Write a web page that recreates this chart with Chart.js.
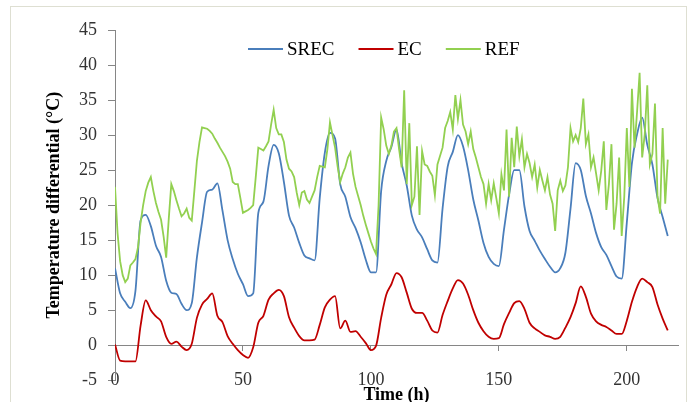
<!DOCTYPE html>
<html>
<head>
<meta charset="utf-8">
<script src="https://cdn.jsdelivr.net/npm/chart.js@4/dist/chart.umd.min.js"></script>
<style>
  html, body { margin: 0; padding: 0; background: #fff; }
  canvas { display: block; }
</style>
</head>
<body>
<canvas id="tempChart" width="696" height="402"></canvas>
<script>
// 시간 (h) - SREC / EC 는 2시간 간격
const hours2 = [
  0, 2, 4, 6, 8, 10, 12, 14, 16, 18,
  20, 22, 24, 26, 28, 30, 32, 34, 36, 38,
  40, 42, 44, 46, 48, 50, 52, 54, 56, 58,
  60, 62, 64, 66, 68, 70, 72, 74, 76, 78,
  80, 82, 84, 86, 88, 90, 92, 94, 96, 98,
  100, 102, 104, 106, 108, 110, 112, 114, 116, 118,
  120, 122, 124, 126, 128, 130, 132, 134, 136, 138,
  140, 142, 144, 146, 148, 150, 152, 154, 156, 158,
  160, 162, 164, 166, 168, 170, 172, 174, 176, 178,
  180, 182, 184, 186, 188, 190, 192, 194, 196, 198,
  200, 202, 204, 206, 208, 210, 212, 214, 216
];

// REF 는 1시간 간격
const hours1 = [
  0, 1, 2, 3, 4, 5, 6, 7, 8, 9,
  10, 11, 12, 13, 14, 15, 16, 17, 18, 19,
  20, 21, 22, 23, 24, 25, 26, 27, 28, 29,
  30, 31, 32, 33, 34, 35, 36, 37, 38, 39,
  40, 41, 42, 43, 44, 45, 46, 47, 48, 49,
  50, 51, 52, 53, 54, 55, 56, 57, 58, 59,
  60, 61, 62, 63, 64, 65, 66, 67, 68, 69,
  70, 71, 72, 73, 74, 75, 76, 77, 78, 79,
  80, 81, 82, 83, 84, 85, 86, 87, 88, 89,
  90, 91, 92, 93, 94, 95, 96, 97, 98, 99,
  100, 101, 102, 103, 104, 105, 106, 107, 108, 109,
  110, 111, 112, 113, 114, 115, 116, 117, 118, 119,
  120, 121, 122, 123, 124, 125, 126, 127, 128, 129,
  130, 131, 132, 133, 134, 135, 136, 137, 138, 139,
  140, 141, 142, 143, 144, 145, 146, 147, 148, 149,
  150, 151, 152, 153, 154, 155, 156, 157, 158, 159,
  160, 161, 162, 163, 164, 165, 166, 167, 168, 169,
  170, 171, 172, 173, 174, 175, 176, 177, 178, 179,
  180, 181, 182, 183, 184, 185, 186, 187, 188, 189,
  190, 191, 192, 193, 194, 195, 196, 197, 198, 199,
  200, 201, 202, 203, 204, 205, 206, 207, 208, 209,
  210, 211, 212, 213, 214, 215, 216
];

const srecValues = [
  11.0, 7.4, 6.2, 5.3, 7.8, 17.8, 18.6, 17.0, 14.2, 12.6,
  9.2, 7.5, 7.3, 5.9, 5.0, 6.0, 12.5, 17.5, 21.9, 22.2,
  23.1, 19.2, 15.0, 12.3, 10.2, 8.7, 7.0, 7.4, 18.9, 20.5,
  25.6, 28.6, 27.4, 23.3, 18.5, 16.8, 14.6, 12.8, 12.4, 12.1,
  21.0, 27.5, 30.3, 29.5, 23.0, 21.2, 18.3, 16.7, 14.7, 12.2,
  10.4, 10.4, 22.0, 26.3, 28.3, 30.8, 26.0, 22.8, 18.5, 16.5,
  15.4, 13.7, 12.1, 11.8, 19.5, 25.5, 27.6, 30.0, 28.4, 25.0,
  20.8, 17.8, 14.6, 12.6, 11.6, 11.3, 16.5, 21.5, 25.0, 25.0,
  19.8, 16.3, 14.9, 13.5, 12.3, 11.2, 10.4, 11.0, 13.2, 19.5,
  26.0, 25.0, 21.3, 18.8, 16.0, 14.0, 12.9, 11.3, 9.8, 9.5,
  17.5, 26.0, 30.1, 32.5, 28.6, 25.8, 21.0, 18.3, 15.6
];

const ecValues = [
  0.1, -2.2, -2.3, -2.3, -2.3, 2.8, 6.4, 5.0, 4.1, 3.4,
  1.2, 0.2, 0.5, -0.2, -0.7, 0.2, 3.9, 5.8, 6.6, 7.4,
  4.2, 3.3, 1.3, 0.2, -0.7, -1.4, -1.8, -0.3, 3.2, 4.2,
  6.5, 7.4, 7.9, 7.0, 4.0, 2.5, 1.3, 0.7, 0.7, 0.8,
  2.9, 5.4, 6.5, 7.0, 2.4, 3.5, 1.9, 2.0, 1.2, 0.3,
  -0.7, -0.1, 3.9, 7.2, 8.7, 10.3, 9.7, 7.5, 5.2, 4.6,
  4.6, 3.5, 2.1, 1.8, 4.3, 6.3, 8.1, 9.3, 8.8, 7.2,
  5.0, 3.2, 2.0, 1.2, 0.9, 1.0, 3.0, 4.6, 6.0, 6.3,
  5.2, 3.2, 2.4, 1.9, 1.4, 1.2, 0.9, 1.2, 2.5, 4.0,
  6.0, 8.4, 6.9, 4.5, 3.4, 2.9, 2.6, 2.1, 1.6, 1.6,
  3.5, 6.2, 8.3, 9.5, 9.0, 8.3, 5.8, 3.8, 2.1
];

const refValues = [
  22.6, 16.0, 12.0, 10.0, 9.0, 9.5, 11.4, 11.8, 12.3, 14.0,
  17.5, 20.0, 22.0, 23.2, 24.0, 22.0, 20.3, 19.0, 17.9, 15.5,
  12.5, 18.0, 23.0, 22.0, 20.7, 19.5, 18.4, 18.8, 19.5, 18.2,
  17.8, 22.0, 26.3, 29.0, 31.1, 31.0, 30.9, 30.6, 30.2, 29.5,
  28.9, 28.2, 27.6, 27.0, 26.2, 25.2, 23.3, 23.0, 23.0, 21.0,
  18.9, 19.1, 19.3, 19.6, 20.0, 24.0, 28.2, 28.0, 27.8, 28.4,
  29.1, 31.5, 33.6, 31.0, 30.1, 30.1, 29.0, 26.5, 25.2, 24.8,
  24.0, 21.8, 20.0, 21.8, 22.0, 20.8, 20.3, 21.2, 22.1, 24.0,
  25.6, 25.5, 25.4, 28.0, 31.8, 30.0, 28.2, 25.5, 23.3, 24.5,
  25.4, 26.8, 27.5, 24.5, 22.6, 21.3, 20.0, 18.5, 17.2, 16.0,
  14.8, 13.8, 13.0, 20.0, 32.5, 30.8, 28.5, 27.3, 28.5, 30.5,
  31.0, 28.0, 25.4, 36.4, 23.0, 31.7, 20.0, 21.2, 28.4, 18.6,
  27.7, 25.8, 25.6, 24.8, 24.2, 21.4, 25.8, 27.0, 28.2, 31.0,
  32.0, 33.3, 30.8, 35.7, 32.3, 35.0, 31.5, 30.5, 28.7, 30.5,
  28.0, 26.8, 25.4, 24.0, 23.0, 20.2, 23.0, 20.7, 23.1, 21.0,
  18.8, 24.4, 22.1, 30.8, 21.2, 29.6, 25.4, 31.2, 27.0, 29.4,
  25.4, 27.3, 26.0, 24.0, 25.8, 22.5, 25.0, 23.5, 22.1, 24.0,
  21.5, 20.2, 16.3, 22.1, 23.5, 22.0, 22.8, 25.4, 31.0, 29.1,
  30.0, 29.0, 31.0, 35.2, 28.7, 30.1, 25.4, 26.8, 24.5, 22.1,
  24.9, 29.1, 19.3, 23.0, 28.7, 16.5, 20.2, 26.8, 15.6, 21.2,
  31.0, 22.6, 36.6, 28.2, 33.3, 38.9, 26.8, 30.1, 37.1, 25.8,
  27.3, 34.5, 21.2, 18.8, 31.0, 20.2, 26.5
];

const xTicks = [0, 50, 100, 150, 200];
const yTicks = [-5, 0, 5, 10, 15, 20, 25, 30, 35, 40, 45];

const toPoints = (xs, ys) => xs.map((x, i) => ({ x: x, y: ys[i] }));

Chart.defaults.font.family = "'Liberation Serif', 'Times New Roman', serif";

// 바깥 테두리
const framePlugin = {
  id: 'frame',
  beforeDraw(chart) {
    const ctx = chart.ctx;
    ctx.save();
    ctx.fillStyle = '#ffffff';
    ctx.fillRect(0, 0, chart.width, chart.height);
    ctx.strokeStyle = '#dedfd2';
    ctx.lineWidth = 1;
    ctx.strokeRect(10.5, 6.5, 676, 402);
    ctx.restore();
  }
};

// 범례 (플롯 안쪽 위)
const legendPlugin = {
  id: 'insideLegend',
  afterDraw(chart) {
    const ctx = chart.ctx;
    ctx.save();
    ctx.font = "19px 'Liberation Serif', 'Times New Roman', serif";
    ctx.textBaseline = 'middle';
    let x = 248;
    const y = 49;
    chart.data.datasets.forEach(ds => {
      ctx.strokeStyle = ds.borderColor;
      ctx.lineWidth = 2;
      ctx.beginPath();
      ctx.moveTo(x, y);
      ctx.lineTo(x + 35, y);
      ctx.stroke();
      ctx.fillStyle = '#000';
      ctx.fillText(ds.label, x + 39, y + 1);
      x += 39 + ctx.measureText(ds.label).width + 24;
    });
    ctx.restore();
  }
};

const ctx = document.getElementById('tempChart');
new Chart(ctx, {
  type: 'line',
  data: {
    datasets: [
      {
        label: 'SREC',
        data: toPoints(hours2, srecValues),
        borderColor: '#4a7ebb',
        cubicInterpolationMode: 'monotone',
        order: 3
      },
      {
        label: 'EC',
        data: toPoints(hours2, ecValues),
        borderColor: '#c00000',
        cubicInterpolationMode: 'monotone',
        order: 2
      },
      {
        label: 'REF',
        data: toPoints(hours1, refValues),
        borderColor: '#92d050',
        order: 1
      }
    ]
  },
  options: {
    responsive: false,
    animation: false,
    devicePixelRatio: 1,
    layout: { padding: { left: 30, top: 30, right: 18, bottom: 0 } },
    plugins: {
      legend: { display: false },
      tooltip: { enabled: false }
    },
    elements: {
      point: { radius: 0 },
      line: { borderWidth: 1.8, fill: false }
    },
    scales: {
      x: {
        type: 'linear',
        min: 0,
        max: 220,
        position: { y: 0 },
        afterFit: s => { s.height = 16; },
        afterBuildTicks: s => { s.ticks = xTicks.map(v => ({ value: v })); },
        grid: { drawOnChartArea: false, drawTicks: true, tickLength: 5, color: '#868686' },
        border: { color: '#868686', width: 1 },
        ticks: { font: { size: 18 }, color: '#333', padding: 19, maxRotation: 0 },
        title: {
          display: true,
          text: 'Time (h)',
          font: { size: 18, weight: 'bold' },
          color: '#000',
          padding: { top: 0, bottom: -45 }
        }
      },
      y: {
        type: 'linear',
        min: -5,
        max: 45,
        position: 'left',
        afterFit: s => { s.width = 85; },
        afterBuildTicks: s => { s.ticks = yTicks.map(v => ({ value: v })); },
        grid: { drawOnChartArea: false, tickLength: 7, color: '#868686' },
        border: { color: '#868686', width: 1 },
        ticks: { font: { size: 18 }, color: '#333', padding: 11 },
        title: {
          display: true,
          text: 'Temperature differential (°C)',
          font: { size: 18, weight: 'bold' },
          color: '#000',
          padding: { top: 14, bottom: 0 }
        }
      }
    }
  },
  plugins: [framePlugin, legendPlugin]
});
</script>
</body>
</html>
